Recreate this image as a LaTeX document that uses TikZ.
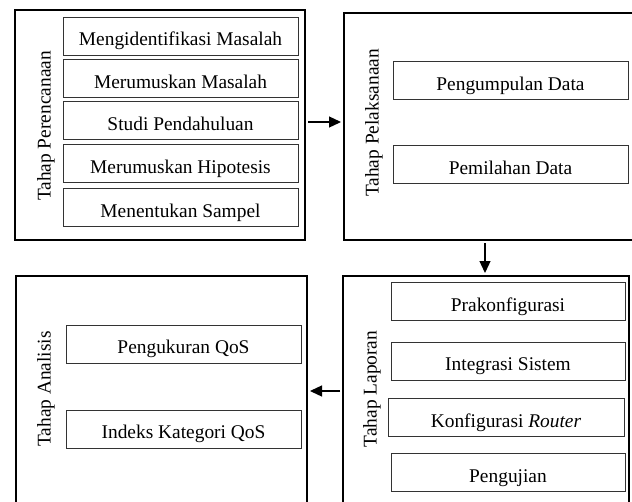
\documentclass[tikz,border=0pt]{standalone}
\usepackage{fontspec}
\setmainfont{Liberation Serif}
\usetikzlibrary{arrows.meta,positioning}
\begin{document}
\begin{tikzpicture}[x=1pt,y=-1pt,
  every node/.style={font=\fontsize{19.4}{23}\selectfont},
  outerbox/.style={draw=black, line width=2pt, rectangle, inner sep=0pt, anchor=north west},
  innerbox/.style={draw=black!80, line width=1pt, rectangle, inner sep=0pt, minimum width=#1, minimum height=38pt, text height=19pt, text depth=0pt},
  innerbox/.default=235pt,
  stagelabel/.style={rotate=90, inner sep=0pt},
  arr/.style={line width=1.3pt, -{Triangle[length=12pt,width=11pt]}, shorten <=2pt, shorten >=2pt}
]
\useasboundingbox (0,0) rectangle (632,501);
\clip (0,0) rectangle (632,501);
\fill[white] (0,0) rectangle (632,501);

% outer stage boxes
\node[outerbox, minimum width=290pt, minimum height=230pt] (tl) at (14,9) {};
\node[outerbox, minimum width=300pt, minimum height=227pt] (tr) at (343,12) {};
\node[outerbox, minimum width=286pt, minimum height=240pt] (br) at (342,275) {};
\node[outerbox, minimum width=291pt, minimum height=240pt] (bl) at (15,275) {};

% stage labels
\node[stagelabel] (ltl) at (46,126) {Tahap Perencanaan};
\node[stagelabel] (ltr) at (374,123) {Tahap Pelaksanaan};
\node[stagelabel] (lbr) at (372,389) {Tahap Laporan};
\node[stagelabel] (lbl) at (46,389) {Tahap Analisis};

% top-left items
\node[innerbox] (a1) at (180.5,36) {Mengidentifikasi Masalah};
\node[innerbox] (a2) at (180.5,78.5) {Merumuskan Masalah};
\node[innerbox] (a3) at (180.5,120.5) {Studi Pendahuluan};
\node[innerbox] (a4) at (180.5,163.5) {Merumuskan Hipotesis};
\node[innerbox] (a5) at (180.5,207.5) {Menentukan Sampel};

% top-right items
\node[innerbox] (b1) at (510.5,80.5) {Pengumpulan Data};
\node[innerbox] (b2) at (510.5,164.5) {Pemilahan Data};

% bottom-right items
\node[innerbox=234pt] (c1) at (508,301.5) {Prakonfigurasi};
\node[innerbox=234pt] (c2) at (508,361) {Integrasi Sistem};
\node[innerbox=236pt] (c3) at (506,417.5) {Konfigurasi \textit{Router}};
\node[innerbox=234pt] (c4) at (508,472.5) {Pengujian};

% bottom-left items
\node[innerbox] (d1) at (183.5,344) {Pengukuran QoS};
\node[innerbox] (d2) at (183.5,429) {Indeks Kategori QoS};

% connectors
\coordinate (ya) at (0,122);
\coordinate (xb) at (485,0);
\coordinate (yc) at (0,391);
\draw[arr] (ya -| tl.east) -- (ya -| tr.west);
\draw[arr] (xb |- tr.south) -- (xb |- br.north);
\draw[arr] (yc -| br.west) -- (yc -| bl.east);
\end{tikzpicture}
\end{document}
